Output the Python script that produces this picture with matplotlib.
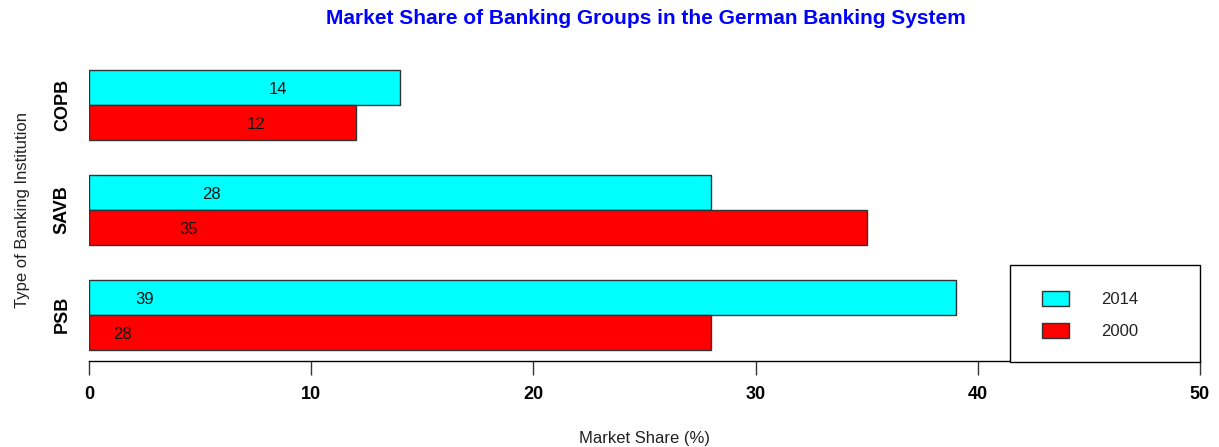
import matplotlib
matplotlib.use("Agg")
import matplotlib.pyplot as plt
from matplotlib.patches import Rectangle
import numpy as np

plt.rcParams['font.family'] = ['Liberation Sans', 'DejaVu Sans']

categories = ["PSB", "SAVB", "COPB"]
years = ["2014", "2000"]
share_2014 = [39, 28, 14]
share_2000 = [28, 35, 12]
colors = {"2014": "#00FFFF", "2000": "#FF0000"}

W, H = 1219, 447
fig = plt.figure(figsize=(W/100, H/100), dpi=100)
ax = fig.add_axes([89/W, 1-361/H, (1200-89)/W, (361-59)/H])

# R-style barplot positions: groups of two bars, one-unit gap between groups
n = len(categories)
pos_2000 = np.array([1.5 + 3*i for i in range(n)])
pos_2014 = pos_2000 + 1.0

ax.barh(pos_2014, share_2014, height=1.0, color=colors["2014"], edgecolor="#333333", linewidth=1.0)
ax.barh(pos_2000, share_2000, height=1.0, color=colors["2000"], edgecolor="#333333", linewidth=1.0)

# value labels (placed as in original: x at bar position index, y at bar centre)
for p, v in zip(pos_2014, share_2014):
    ax.text(p, p - 0.06, str(v), ha="center", va="center", fontsize=12, color="#111111")
for p, v in zip(pos_2000, share_2000):
    ax.text(p, p - 0.06, str(v), ha="center", va="center", fontsize=12, color="#111111")

ax.set_xlim(0, 50)
ax.set_ylim(0.68, 9.32)

for s in ["top", "right", "left"]:
    ax.spines[s].set_visible(False)
ax.spines["bottom"].set_color("#000000")
ax.spines["bottom"].set_linewidth(1.0)

ax.set_xticks([0, 10, 20, 30, 40, 50])
ax.set_xticklabels(["0", "10", "20", "30", "40", "50"], fontweight="bold", fontsize=13)
ax.tick_params(axis="x", length=10, width=1, color="#333333", pad=8)

ax.set_yticks((pos_2000 + pos_2014) / 2)
ax.set_yticklabels(categories, rotation=90, va="center", fontweight="bold", fontsize=13)
ax.tick_params(axis="y", length=0, pad=13)

ax.set_xlabel("Market Share (%)", fontsize=12, color="#222222", labelpad=20)
ax.set_ylabel("Type of Banking Institution", fontsize=12, color="#222222", labelpad=17)

fig.text(646/W, 1-18/H, "Market Share of Banking Groups in the German Banking System",
         ha="center", va="center", fontsize=15, fontweight="bold", color="#0000FF")

# legend box drawn in figure pixel coordinates (R-style bottomright legend)
def fx(px):
    return px / W
def fy(py):
    return 1 - py / H

fig.patches.append(Rectangle((fx(1010), fy(362)), fx(1200) - fx(1010), fy(265) - fy(362),
                             transform=fig.transFigure, facecolor="white",
                             edgecolor="#000000", linewidth=1.0, zorder=5))
for i, yr in enumerate(years):
    yc = 298 + i * 32
    fig.patches.append(Rectangle((fx(1042), fy(yc + 7.5)), fx(1069) - fx(1042), fy(yc - 7.5) - fy(yc + 7.5),
                                 transform=fig.transFigure, facecolor=colors[yr],
                                 edgecolor="#333333", linewidth=1.0, zorder=6))
    fig.text(fx(1101), fy(yc + 1), yr, ha="left", va="center", fontsize=12, color="#222222", zorder=7)

fig.savefig("out.png", dpi=100)
